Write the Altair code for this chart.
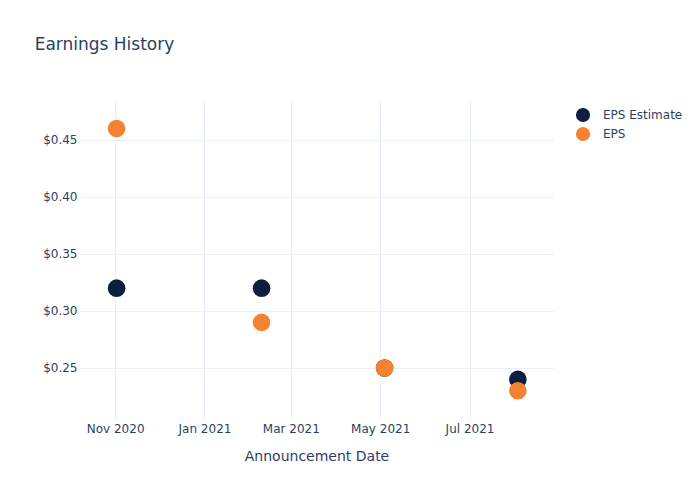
import altair as alt
import pandas as pd

dates = ["2020-11-02", "2021-02-09", "2021-05-04", "2021-08-03"]
eps_estimate = [0.32, 0.32, 0.25, 0.24]
eps_actual = [0.46, 0.29, 0.25, 0.23]
series_names = ["EPS Estimate", "EPS"]
series_colors = ["#0d1f3f", "#f58232"]

rows = []
for d, v in zip(dates, eps_estimate):
    rows.append({"date": d, "value": v, "series": "EPS Estimate", "ord": 0})
for d, v in zip(dates, eps_actual):
    rows.append({"date": d, "value": v, "series": "EPS", "ord": 1})
df = pd.DataFrame(rows)

FONT = "DejaVu Sans"
TXT = "#2a3f5f"
GRID = "#ebf0f8"

tick_dates = [
    alt.DateTime(year=2020, month=11, date=1, utc=True),
    alt.DateTime(year=2021, month=1, date=1, utc=True),
    alt.DateTime(year=2021, month=3, date=1, utc=True),
    alt.DateTime(year=2021, month=5, date=1, utc=True),
    alt.DateTime(year=2021, month=7, date=1, utc=True),
]

chart = alt.Chart(df).mark_circle(size=310, opacity=1).encode(
    x=alt.X(
        "date:T",
        title="Announcement Date",
        scale=alt.Scale(
            type="utc",
            domain=[alt.DateTime(year=2020, month=10, date=8, utc=True),
                    alt.DateTime(year=2021, month=8, date=27, utc=True)],
            nice=False,
        ),
        axis=alt.Axis(
            values=tick_dates, format="%b %Y", domain=False, ticks=False,
            labelPadding=3, titlePadding=15, grid=True, gridColor=GRID,
            labelFont=FONT, labelFontSize=12, labelColor=TXT,
            titleFont=FONT, titleFontSize=14, titleColor=TXT, titleFontWeight="normal",
            labelFlush=False,
        ),
    ),
    y=alt.Y(
        "value:Q",
        title=None,
        scale=alt.Scale(domain=[0.2044, 0.485], nice=False, zero=False),
        axis=alt.Axis(
            values=[0.25, 0.30, 0.35, 0.40, 0.45], format="$.2f", domain=False,
            ticks=False, labelPadding=3, grid=True, gridColor=GRID,
            labelFont=FONT, labelFontSize=12, labelColor=TXT,
        ),
    ),
    color=alt.Color(
        "series:N",
        scale=alt.Scale(domain=series_names, range=series_colors),
        legend=alt.Legend(
            title=None, orient="none", legendX=495, legendY=7,
            symbolType="circle", symbolSize=200, symbolOpacity=1,
            labelFont=FONT, labelFontSize=12, labelColor=TXT,
            rowPadding=3, labelOffset=12,
        ),
    ),
    order=alt.Order("ord:Q"),
).properties(
    width=473,
    height=320,
    background="white",
    title=alt.TitleParams(
        "Earnings History", anchor="start", dx=-8, offset=46,
        font=FONT, fontSize=17, color=TXT, fontWeight="normal",
    ),
    autosize=alt.AutoSizeParams(type="none"),
    padding={"left": 80, "top": 100, "right": 147, "bottom": 80},
).configure_view(strokeWidth=0, stroke="transparent")

chart.save("out.html", embed_options={"renderer": "svg", "actions": False})
